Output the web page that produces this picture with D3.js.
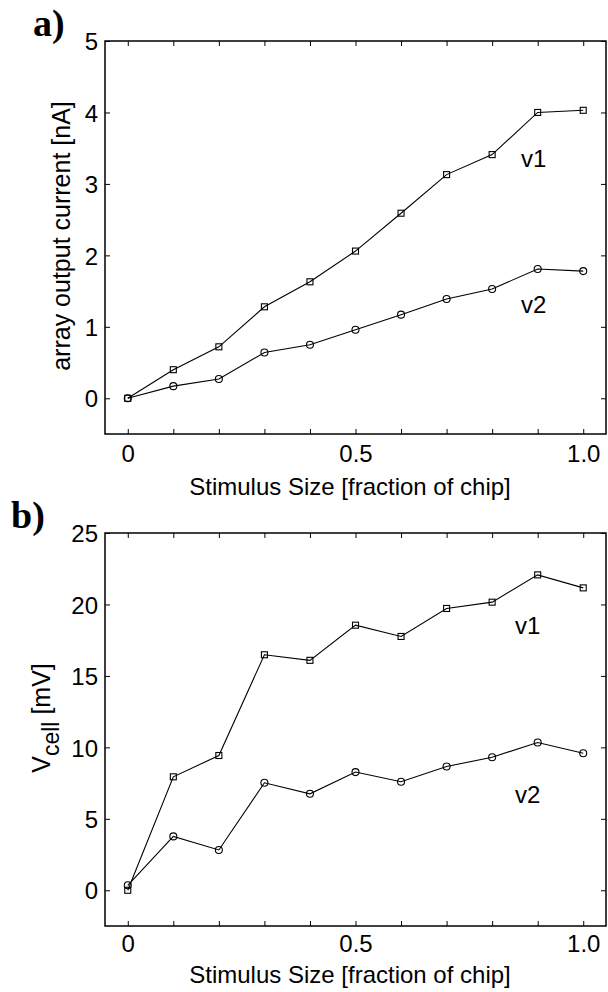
<!DOCTYPE html>
<html>
<head>
<script src="https://cdn.jsdelivr.net/npm/d3@7"></script>
<style>
body { margin:0; background:#fff; }
text { fill:#000; }
</style>
</head>
<body>
<div id="chart"></div>
<script>
// stimulus size (fraction of chip)
var sizes = [0, 0.1, 0.2, 0.3, 0.4, 0.5, 0.6, 0.7, 0.8, 0.9, 1.0];
// a) array output current [nA]
var currentV1 = [0, 0.40, 0.72, 1.28, 1.63, 2.06, 2.59, 3.13, 3.41, 4.00, 4.03];
var currentV2 = [0, 0.17, 0.27, 0.64, 0.75, 0.96, 1.17, 1.39, 1.53, 1.81, 1.78];
// b) Vcell [mV]
var vcellV1 = [0, 7.94, 9.43, 16.48, 16.09, 18.55, 17.76, 19.72, 20.16, 22.07, 21.16];
var vcellV2 = [0.35, 3.77, 2.82, 7.52, 6.75, 8.27, 7.59, 8.66, 9.31, 10.34, 9.59];
var xTickLabels = [0, 0.5, 1.0];
var currentTicks = [0, 1, 2, 3, 4, 5];
var vcellTicks = [0, 5, 10, 15, 20, 25];

var W = 608, H = 992;
var sans = "'Liberation Sans', Arial, Helvetica, sans-serif";
var serif = "'Liberation Serif', 'Times New Roman', serif";
var svg = d3.select("#chart").append("svg").attr("width", W).attr("height", H)
  .style("font-family", sans);

function panel(opt) {
  var x = d3.scaleLinear().domain([-0.05, 1.05]).range([105, 606]);
  var y = d3.scaleLinear().domain(opt.ydom).range([opt.bottom, opt.top]);
  var g = svg.append("g");

  // inward ticks on all four sides
  g.append("g").attr("transform", "translate(0," + opt.bottom + ")")
    .call(d3.axisBottom(x).tickValues(sizes).tickSize(-5).tickSizeOuter(0).tickFormat(""));
  g.append("g").attr("transform", "translate(0," + opt.top + ")")
    .call(d3.axisTop(x).tickValues(sizes).tickSize(-5).tickSizeOuter(0).tickFormat(""));
  g.append("g").attr("transform", "translate(105,0)")
    .call(d3.axisLeft(y).tickValues(opt.yticks).tickSize(-5).tickSizeOuter(0).tickFormat(""));
  g.append("g").attr("transform", "translate(606,0)")
    .call(d3.axisRight(y).tickValues(opt.yticks).tickSize(-5).tickSizeOuter(0).tickFormat(""));
  g.selectAll(".domain").remove();
  g.selectAll(".tick line").attr("stroke", "#000").attr("stroke-width", 1);

  // tick labels
  var xl = g.append("g").attr("transform", "translate(0," + opt.bottom + ")")
    .call(d3.axisBottom(x).tickValues(xTickLabels).tickSize(0).tickPadding(opt.xpad)
      .tickFormat(function(d) { return d === 0 ? "0" : d.toFixed(1); }));
  var yl = g.append("g").attr("transform", "translate(105,0)")
    .call(d3.axisLeft(y).tickValues(opt.yticks).tickSize(0).tickPadding(7)
      .tickFormat(d3.format("d")));
  [xl, yl].forEach(function(a) {
    a.select(".domain").remove();
    a.attr("font-family", null).attr("font-size", null);
    a.selectAll("text").attr("font-size", 24).attr("dy", null);
  });
  yl.selectAll("text").attr("dy", "0.36em");

  g.append("rect").attr("x", 105).attr("y", opt.top)
    .attr("width", 501).attr("height", opt.bottom - opt.top)
    .attr("fill", "none").attr("stroke", "#000").attr("stroke-width", 1.5);

  var line = d3.line().x(function(d, i) { return x(sizes[i]); }).y(function(d) { return y(d); });
  [opt.v1, opt.v2].forEach(function(s) {
    g.append("path").datum(s).attr("d", line)
      .attr("fill", "none").attr("stroke", "#000").attr("stroke-width", 1.1);
  });
  g.selectAll(".sq").data(opt.v1).enter().append("rect")
    .attr("x", function(d, i) { return x(sizes[i]) - 3; })
    .attr("y", function(d) { return y(d) - 3; })
    .attr("width", 6).attr("height", 6)
    .attr("fill", "none").attr("stroke", "#000").attr("stroke-width", 1.1);
  g.selectAll(".ci").data(opt.v2).enter().append("circle")
    .attr("cx", function(d, i) { return x(sizes[i]); })
    .attr("cy", function(d) { return y(d); })
    .attr("r", 3.5)
    .attr("fill", "none").attr("stroke", "#000").attr("stroke-width", 1.1);

  g.append("text").attr("x", opt.labx).attr("y", opt.v1y).attr("font-size", 24).text("v1");
  g.append("text").attr("x", opt.labx).attr("y", opt.v2y).attr("font-size", 24).text("v2");

  g.append("text").attr("x", 350).attr("y", opt.bottom + opt.labOff)
    .attr("text-anchor", "middle").attr("font-size", 24)
    .text("Stimulus Size [fraction of chip]");

  g.append("text").attr("x", opt.panelX).attr("y", opt.panelY)
    .style("font-family", serif)
    .attr("font-weight", "bold").attr("font-size", 38).text(opt.letter);
  return { x: x, y: y, g: g };
}

var a = panel({ top: 41, bottom: 434, ydom: [-0.5, 5], yticks: currentTicks,
  v1: currentV1, v2: currentV2, labx: 521, v1y: 167, v2y: 313,
  xpad: 28, labOff: 61,
  letter: "a)", panelX: 33, panelY: 36 });
a.g.append("text").attr("transform", "translate(70,236) rotate(-90)")
  .attr("text-anchor", "middle").attr("font-size", 25)
  .text("array output current [nA]");

var b = panel({ top: 533, bottom: 926, ydom: [-2.5, 25], yticks: vcellTicks,
  v1: vcellV1, v2: vcellV2, labx: 515, v1y: 634, v2y: 803,
  xpad: 26, labOff: 57,
  letter: "b)", panelX: 11, panelY: 528 });
var yb = b.g.append("text").attr("transform", "translate(50,718) rotate(-90)")
  .attr("text-anchor", "middle").attr("font-size", 25);
yb.append("tspan").text("V");
yb.append("tspan").attr("dy", 9).attr("font-size", 23).text("cell");
yb.append("tspan").attr("dy", -9).text(" [mV]");
</script>
</body>
</html>
